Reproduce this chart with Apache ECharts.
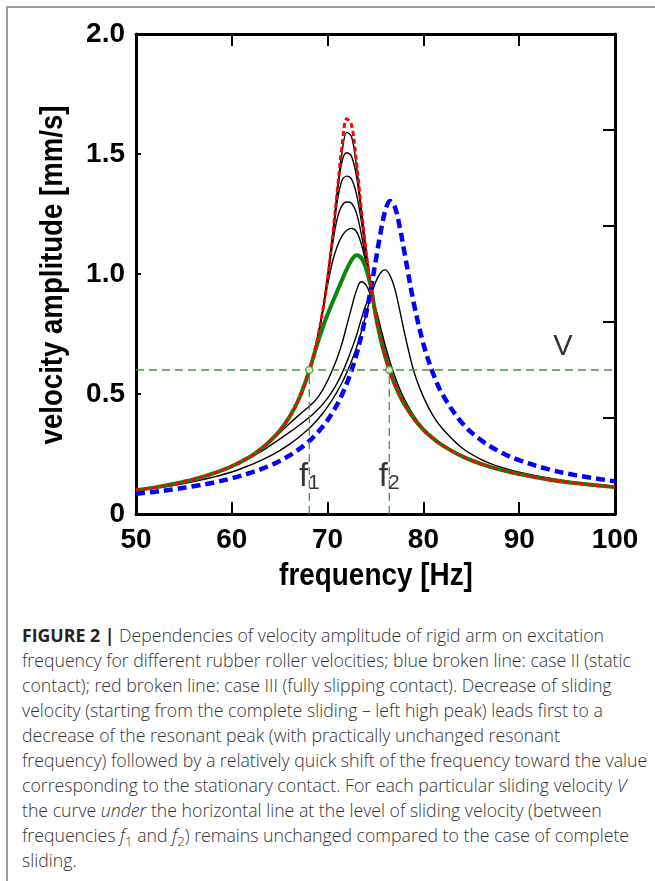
<!DOCTYPE html>
<html>
<head>
<meta charset="utf-8">
<script src="https://cdn.jsdelivr.net/npm/echarts@6/dist/echarts.min.js"></script>
<style>
  html, body { margin:0; padding:0; background:#fff; }
  #wrap { position:relative; width:655px; height:881px; overflow:hidden; }
  #frame { position:absolute; left:6px; top:6px; width:700px; height:900px; border-top:2px solid #9c9c9c; border-left:2px solid #9c9c9c; }
  #chart { position:absolute; left:0; top:0; width:655px; height:600px; }
  #caption { position:absolute; left:22px; top:623px; width:633px; font-family:"Open Sans","Lato",sans-serif; font-weight:300; color:#333; font-size:17.7px; line-height:25px; }
  #caption div { white-space:nowrap; }
  #caption b { color:#222; font-weight:700; }
  #caption sub { font-size:0.75em; line-height:0; vertical-align:-0.3em; }
</style>
</head>
<body>
<div id="wrap">
  <div id="frame"></div>
  <div id="chart"></div>
  <div id="caption">
    <div><b>FIGURE 2 |</b> Dependencies of velocity amplitude of rigid arm on excitation</div>
    <div>frequency for different rubber roller velocities; blue broken line: case II (static</div>
    <div>contact); red broken line: case III (fully slipping contact). Decrease of sliding</div>
    <div>velocity (starting from the complete sliding – left high peak) leads first to a</div>
    <div>decrease of the resonant peak (with practically unchanged resonant</div>
    <div>frequency) followed by a relatively quick shift of the frequency toward the value</div>
    <div>corresponding to the stationary contact. For each particular sliding velocity <i>V</i></div>
    <div>the curve <i>under</i> the horizontal line at the level of sliding velocity (between</div>
    <div>frequencies <i>f</i><sub>1</sub> and <i>f</i><sub>2</sub>) remains unchanged compared to the case of complete</div>
    <div>sliding.</div>
  </div>
</div>
<script>
// ---- data ----
const freq = [50,52,54,56,58,60,62,63,64,65,66,67,68,68.5,69,69.5,70,70.5,71,71.5,72,72.5,73,73.5,74,74.5,75,75.5,76,76.5,77,77.5,78,79,80,81,82,84,86,88,90,93,96,100];

// case III (fully slipping contact) – red broken line
const caseIII = [0.099,0.111,0.126,0.144,0.168,0.199,0.241,0.269,0.304,0.347,0.403,0.479,0.585,0.655,0.742,0.849,0.983,1.149,1.342,1.531,1.647,1.620,1.471,1.280,1.101,0.952,0.832,0.735,0.657,0.594,0.541,0.496,0.458,0.398,0.351,0.315,0.286,0.241,0.209,0.185,0.166,0.144,0.128,0.112];

// case II (static contact) – blue broken line
const caseII = [0.084,0.093,0.103,0.116,0.130,0.149,0.172,0.186,0.202,0.221,0.243,0.269,0.301,0.320,0.341,0.365,0.391,0.422,0.456,0.497,0.544,0.598,0.663,0.740,0.830,0.935,1.050,1.166,1.260,1.304,1.281,1.202,1.094,0.878,0.709,0.587,0.498,0.381,0.308,0.259,0.224,0.187,0.161,0.136];

// intermediate sliding velocities – thin black lines
const slide1 = [0.099,0.111,0.126,0.144,0.168,0.199,0.241,0.269,0.304,0.347,0.403,0.479,0.585,0.655,0.742,0.849,0.983,1.149,1.340,1.505,1.590,1.572,1.455,1.278,1.101,0.952,0.832,0.735,0.657,0.594,0.541,0.496,0.458,0.398,0.351,0.315,0.286,0.241,0.209,0.185,0.166,0.144,0.128,0.112];
const slide2 = [0.099,0.111,0.126,0.144,0.168,0.199,0.241,0.269,0.304,0.347,0.403,0.479,0.585,0.655,0.742,0.849,0.983,1.148,1.330,1.468,1.505,1.490,1.410,1.262,1.098,0.952,0.832,0.735,0.657,0.594,0.541,0.496,0.458,0.398,0.351,0.315,0.286,0.241,0.209,0.185,0.166,0.144,0.128,0.112];
const slide3 = [0.099,0.111,0.126,0.144,0.168,0.199,0.241,0.269,0.304,0.347,0.403,0.479,0.585,0.655,0.742,0.849,0.982,1.140,1.300,1.390,1.408,1.395,1.335,1.225,1.085,0.950,0.832,0.735,0.657,0.594,0.541,0.496,0.458,0.398,0.351,0.315,0.286,0.241,0.209,0.185,0.166,0.144,0.128,0.112];
const slide4 = [0.099,0.111,0.126,0.144,0.168,0.199,0.241,0.269,0.304,0.347,0.403,0.479,0.585,0.655,0.742,0.849,0.980,1.120,1.230,1.285,1.300,1.295,1.255,1.170,1.060,0.945,0.832,0.735,0.657,0.594,0.541,0.496,0.458,0.398,0.351,0.315,0.286,0.241,0.209,0.185,0.166,0.144,0.128,0.112];
const slide5 = [0.099,0.111,0.126,0.144,0.168,0.199,0.241,0.269,0.304,0.347,0.403,0.479,0.585,0.655,0.742,0.845,0.955,1.050,1.115,1.158,1.182,1.190,1.178,1.128,1.045,0.945,0.832,0.735,0.657,0.594,0.541,0.496,0.458,0.398,0.351,0.315,0.286,0.241,0.209,0.185,0.166,0.144,0.128,0.112];
const slide6 = [0.099,0.111,0.126,0.144,0.168,0.199,0.241,0.269,0.302,0.338,0.376,0.412,0.446,0.465,0.487,0.518,0.556,0.600,0.650,0.710,0.785,0.860,0.930,0.968,0.955,0.910,0.845,0.765,0.683,0.614,0.556,0.508,0.467,0.402,0.352,0.315,0.286,0.241,0.209,0.185,0.166,0.144,0.128,0.112];
const slide7 = [0.099,0.111,0.126,0.144,0.168,0.199,0.236,0.259,0.285,0.312,0.340,0.369,0.400,0.417,0.436,0.458,0.483,0.512,0.546,0.586,0.633,0.686,0.742,0.810,0.872,0.898,0.858,0.782,0.705,0.636,0.576,0.524,0.480,0.410,0.357,0.318,0.287,0.241,0.209,0.185,0.166,0.144,0.128,0.112];
const slide8 = [0.097,0.108,0.120,0.135,0.153,0.175,0.205,0.222,0.242,0.264,0.290,0.320,0.354,0.374,0.396,0.420,0.447,0.477,0.510,0.547,0.589,0.637,0.692,0.757,0.830,0.905,0.965,1.003,1.017,0.995,0.940,0.855,0.760,0.595,0.488,0.410,0.355,0.276,0.228,0.196,0.174,0.150,0.132,0.114];

// sliding velocity V = 0.6 mm/s – thick green line
const slideV = [0.099,0.111,0.126,0.144,0.168,0.199,0.241,0.269,0.304,0.347,0.403,0.479,0.585,0.652,0.718,0.778,0.832,0.881,0.928,0.975,1.020,1.058,1.078,1.068,1.025,0.950,0.832,0.735,0.657,0.594,0.541,0.496,0.458,0.398,0.351,0.315,0.286,0.241,0.209,0.185,0.166,0.144,0.128,0.112];

const levelV = 0.6;
const f1 = 68.09;
const f2 = 76.44;

const xTicks = [50, 60, 70, 80, 90, 100];
const yTicks = [0, 0.5, 1.0, 1.5, 2.0];
const yRightStep = 0.4;

// ---- chart ----
const sansB = '"Liberation Sans",Arial,sans-serif';
const pts = arr => freq.map((f, i) => [f, arr[i]]);
const axisLine = { show: true, onZero: false, lineStyle: { color: '#000', width: 3 } };

const chart = echarts.init(document.getElementById('chart'), null, { renderer: 'canvas' });

const blackSeries = [slide1, slide2, slide3, slide4, slide5, slide6, slide7, slide8].map(a => ({
  type: 'line', data: pts(a), showSymbol: false, smooth: 0.35, silent: true,
  lineStyle: { color: '#000', width: 1.4 }, z: 2
}));

const guide = (data) => ({
  type: 'line', data, showSymbol: false, silent: true,
  lineStyle: { color: '#3d9a3d', width: 1.3, type: [8, 5] }, z: 6
});

chart.setOption({
  animation: false,
  grid: { left: 136, top: 34, right: 40, bottom: 86, containLabel: false },
  xAxis: [
    { type: 'value', min: xTicks[0], max: xTicks[xTicks.length - 1], interval: xTicks[1] - xTicks[0], position: 'bottom',
      axisLine, axisTick: { show: true, inside: true, length: 12, lineStyle: { color: '#000', width: 2 } },
      axisLabel: { fontFamily: sansB, fontSize: 28, fontWeight: 'bold', color: '#000', margin: 12 },
      splitLine: { show: false } },
    { type: 'value', min: xTicks[0], max: xTicks[xTicks.length - 1], interval: xTicks[1] - xTicks[0], position: 'top',
      axisLine, axisTick: { show: true, inside: true, length: 12, lineStyle: { color: '#000', width: 2 } },
      axisLabel: { show: false }, splitLine: { show: false } }
  ],
  yAxis: [
    { type: 'value', min: yTicks[0], max: yTicks[yTicks.length - 1], interval: yTicks[1] - yTicks[0], position: 'left',
      axisLine, axisTick: { show: true, inside: true, length: 5, lineStyle: { color: '#000', width: 2 } },
      axisLabel: { fontFamily: sansB, fontSize: 28, fontWeight: 'bold', color: '#000', margin: 11,
        formatter: v => v === 0 ? '0' : v.toFixed(1) },
      splitLine: { show: false } },
    { type: 'value', min: yTicks[0], max: yTicks[yTicks.length - 1], interval: yRightStep, position: 'right',
      axisLine, axisTick: { show: true, inside: true, length: 12, lineStyle: { color: '#000', width: 2 } },
      axisLabel: { show: false }, splitLine: { show: false } }
  ],
  graphic: [
    { type: 'text', x: 376, y: 576, scaleX: 0.9,
      style: { text: 'frequency [Hz]', align: 'center', verticalAlign: 'middle', font: 'bold 31px ' + sansB, fill: '#000' } },
    { type: 'text', x: 53, y: 275, rotation: Math.PI / 2, scaleX: 0.89,
      style: { text: 'velocity amplitude [mm/s]', align: 'center', verticalAlign: 'middle', font: 'bold 31px ' + sansB, fill: '#000' } }
  ],
  series: [
    ...blackSeries,
    { type: 'line', data: pts(slideV), showSymbol: false, smooth: 0.35, silent: true,
      lineStyle: { color: '#0b870b', width: 4 }, z: 3 },
    { type: 'line', data: pts(caseII), showSymbol: false, smooth: 0.35, silent: true,
      lineStyle: { color: '#0000ff', width: 4.5, type: [9, 5] }, z: 4 },
    { type: 'line', data: pts(caseIII), showSymbol: false, smooth: 0.35, silent: true,
      lineStyle: { color: '#ff0000', width: 3, type: [5, 3] }, z: 5 },
    guide([[xTicks[0], levelV], [xTicks[xTicks.length - 1], levelV]]),
    guide([[f1, 0], [f1, levelV]]),
    guide([[f2, 0], [f2, levelV]]),
    { type: 'scatter', data: [[f1, levelV], [f2, levelV]], symbol: 'circle', symbolSize: 7, silent: true,
      itemStyle: { color: '#fff', borderColor: '#3d9a3d', borderWidth: 1.5 }, z: 8 },
    { type: 'scatter', symbolSize: 0, silent: true, z: 9,
      data: [
        { value: [f1, 0.155], name: '1' },
        { value: [f2, 0.155], name: '2' }
      ],
      label: { show: true, position: 'inside', formatter: p => '{f|f}{s|' + p.name + '}',
        rich: { f: { fontFamily: sansB, fontSize: 33, color: '#000', lineHeight: 34 },
                s: { fontFamily: sansB, fontSize: 21, color: '#000', lineHeight: 34, verticalAlign: 'bottom', padding: [16, 0, 0, 0] } } } },
    { type: 'scatter', symbolSize: 0, silent: true, z: 9,
      data: [{ value: [94.57, 0.696], name: 'V' }],
      label: { show: true, position: 'inside', formatter: 'V', fontFamily: sansB, fontSize: 29, color: '#000' } }
  ]
});
</script>
</body>
</html>
